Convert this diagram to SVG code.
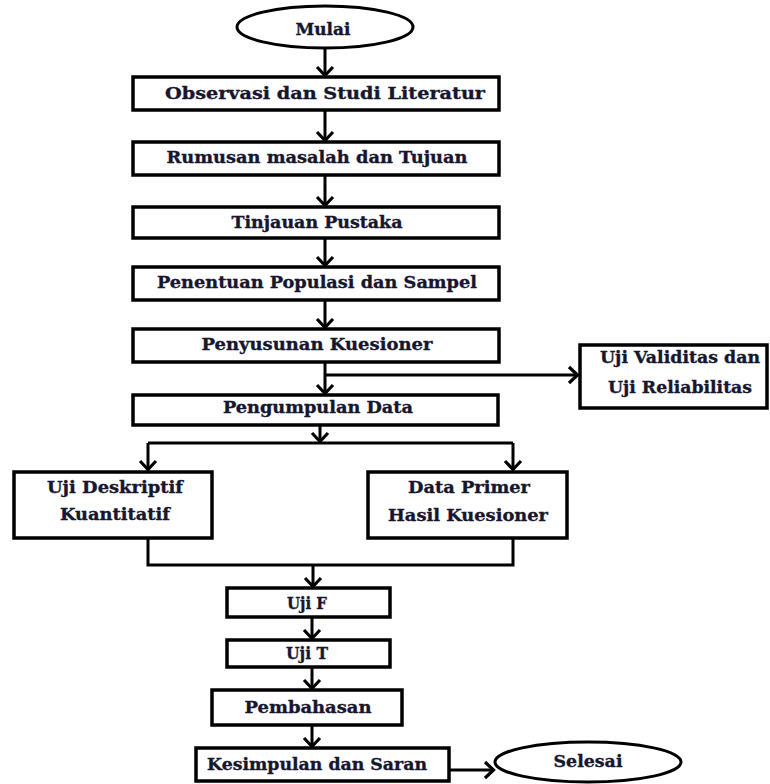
<svg xmlns="http://www.w3.org/2000/svg" width="770" height="784" viewBox="0 0 770 784">
<style>
  .box { fill: #ffffff; stroke: #000000; stroke-width: 3.5; }
  .term { fill: #ffffff; stroke: #000000; stroke-width: 3; }
  .lbl { font-family: "DejaVu Serif", "Liberation Serif", serif; font-weight: bold; font-size: 17px; fill: #16162e; stroke: #16162e; stroke-width: 0.35; text-anchor: middle; }
  .conn { fill: none; stroke: #000000; stroke-width: 3; }
  .arr { marker-end: url(#chev); }
</style>
<defs>
  <marker id="chev" markerUnits="userSpaceOnUse" viewBox="-12 -11 14 22" refX="0" refY="0" markerWidth="14" markerHeight="22" orient="auto">
    <path d="M-9,-8 L-0.5,0 L-9,8" fill="none" stroke="#000" stroke-width="3.2" stroke-linejoin="miter"/>
  </marker>
</defs>
<rect width="770" height="784" fill="#ffffff"/>

<g id="connectors">
  <line class="conn arr" x1="325" y1="48" x2="325" y2="76"/>
  <line class="conn arr" x1="325" y1="110" x2="325" y2="141"/>
  <line class="conn arr" x1="325" y1="175" x2="325" y2="206"/>
  <line class="conn arr" x1="325" y1="238" x2="325" y2="266"/>
  <line class="conn arr" x1="325" y1="300" x2="325" y2="328"/>
  <line class="conn arr" x1="325" y1="362" x2="325" y2="394"/>
  <line class="conn arr" x1="325" y1="375" x2="578" y2="375"/>
  <line class="conn arr" x1="320" y1="425" x2="320" y2="442"/>
  <polyline class="conn" points="148,443 513,443"/>
  <line class="conn arr" x1="148" y1="443" x2="148" y2="470"/>
  <line class="conn arr" x1="513" y1="443" x2="513" y2="470"/>
  <polyline class="conn" points="148,538 148,565 513,565 513,538"/>
  <line class="conn arr" x1="313" y1="565" x2="313" y2="587"/>
  <line class="conn arr" x1="312" y1="617" x2="312" y2="639"/>
  <line class="conn arr" x1="312" y1="667" x2="312" y2="689"/>
  <line class="conn arr" x1="312" y1="725" x2="312" y2="747"/>
  <line class="conn arr" x1="449" y1="770" x2="494" y2="770"/>
</g>

<g id="mulai">
  <ellipse class="term" cx="325" cy="27" rx="88" ry="21"/>
  <text class="lbl" x="323" y="35" textLength="55" lengthAdjust="spacingAndGlyphs">Mulai</text>
</g>
<g id="observasi">
  <rect class="box" x="133" y="77" width="366" height="33"/>
  <text class="lbl" x="325" y="99" textLength="320" lengthAdjust="spacingAndGlyphs">Observasi dan Studi Literatur</text>
</g>
<g id="rumusan">
  <rect class="box" x="133" y="142" width="366" height="33"/>
  <text class="lbl" x="317" y="163" textLength="301" lengthAdjust="spacingAndGlyphs">Rumusan masalah dan Tujuan</text>
</g>
<g id="tinjauan">
  <rect class="box" x="133" y="207" width="366" height="31"/>
  <text class="lbl" x="317" y="228" textLength="171" lengthAdjust="spacingAndGlyphs">Tinjauan Pustaka</text>
</g>
<g id="penentuan">
  <rect class="box" x="133" y="267" width="366" height="33"/>
  <text class="lbl" x="317" y="288" textLength="320" lengthAdjust="spacingAndGlyphs">Penentuan Populasi dan Sampel</text>
</g>
<g id="penyusunan">
  <rect class="box" x="133" y="329" width="366" height="33"/>
  <text class="lbl" x="317" y="350" textLength="231" lengthAdjust="spacingAndGlyphs">Penyusunan Kuesioner</text>
</g>
<g id="validitas">
  <rect class="box" x="580" y="345" width="187" height="63"/>
  <text class="lbl" x="680" y="363" textLength="160" lengthAdjust="spacingAndGlyphs">Uji Validitas dan</text>
  <text class="lbl" x="680" y="393" textLength="144" lengthAdjust="spacingAndGlyphs">Uji Reliabilitas</text>
</g>
<g id="pengumpulan">
  <rect class="box" x="133" y="395" width="365" height="30"/>
  <text class="lbl" x="318" y="413" textLength="190" lengthAdjust="spacingAndGlyphs">Pengumpulan Data</text>
</g>
<g id="deskriptif">
  <rect class="box" x="14" y="472" width="198" height="66"/>
  <text class="lbl" x="115" y="493" textLength="136" lengthAdjust="spacingAndGlyphs">Uji Deskriptif</text>
  <text class="lbl" x="115" y="520" textLength="110" lengthAdjust="spacingAndGlyphs">Kuantitatif</text>
</g>
<g id="dataprimer">
  <rect class="box" x="368" y="472" width="199" height="66"/>
  <text class="lbl" x="469" y="493" textLength="122" lengthAdjust="spacingAndGlyphs">Data Primer</text>
  <text class="lbl" x="468" y="521" textLength="160" lengthAdjust="spacingAndGlyphs">Hasil Kuesioner</text>
</g>
<g id="ujif">
  <rect class="box" x="227" y="588" width="163" height="29"/>
  <text class="lbl" x="307" y="609" textLength="40" lengthAdjust="spacingAndGlyphs">Uji F</text>
</g>
<g id="ujit">
  <rect class="box" x="227" y="640" width="163" height="27"/>
  <text class="lbl" x="307" y="659" textLength="42" lengthAdjust="spacingAndGlyphs">Uji T</text>
</g>
<g id="pembahasan">
  <rect class="box" x="212" y="690" width="190" height="35"/>
  <text class="lbl" x="308" y="713" textLength="127" lengthAdjust="spacingAndGlyphs">Pembahasan</text>
</g>
<g id="kesimpulan">
  <rect class="box" x="196" y="748" width="253" height="33"/>
  <text class="lbl" x="317" y="770" textLength="220" lengthAdjust="spacingAndGlyphs">Kesimpulan dan Saran</text>
</g>
<g id="selesai">
  <ellipse class="term" cx="588" cy="762" rx="93" ry="20"/>
  <text class="lbl" x="588" y="767" textLength="69" lengthAdjust="spacingAndGlyphs">Selesai</text>
</g>
</svg>
